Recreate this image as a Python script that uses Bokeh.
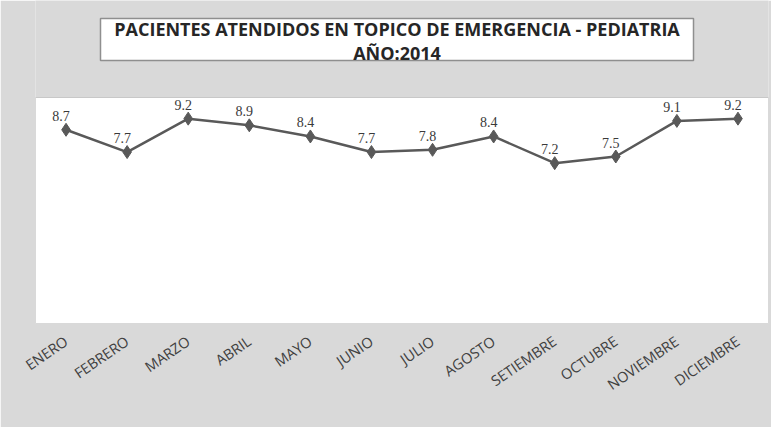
from bokeh.plotting import figure
from bokeh.models import ColumnDataSource, LabelSet, Label, Range1d, FactorRange, BoxAnnotation
from bokeh.embed import file_html
from bokeh.resources import INLINE
from bokeh.core.properties import value

months = ["ENERO", "FEBRERO", "MARZO", "ABRIL", "MAYO", "JUNIO", "JULIO",
          "AGOSTO", "SETIEMBRE", "OCTUBRE", "NOVIEMBRE", "DICIEMBRE"]
values = [8.7, 7.7, 9.2, 8.9, 8.4, 7.7, 7.8, 8.4, 7.2, 7.5, 9.1, 9.2]
title_lines = ["PACIENTES ATENDIDOS EN TOPICO DE EMERGENCIA - PEDIATRIA", "AÑO:2014"]
y_axis_max = 10.15

src = ColumnDataSource(dict(x=months, y=values, lab=[f"{v:.1f}" for v in values]))

# layout (pixels): frame 733 px wide; white plot area 226 px tall, frame extends 97 px above it
FRAME_W, PLOT_H, TOP_H = 733, 226, 97
y_per_px = y_axis_max / PLOT_H
x_per_px = len(months) / FRAME_W
y_top = y_axis_max + TOP_H * y_per_px

p = figure(width=771, height=427,
           x_range=FactorRange(*months, range_padding=0),
           y_range=Range1d(0, y_top),
           output_backend="svg", toolbar_location=None,
           min_border_left=35, min_border_right=3,
           min_border_top=0, min_border_bottom=104,
           background_fill_color="#d9d9d9", border_fill_color="#d9d9d9")
p.outline_line_color = None
p.grid.visible = False
p.yaxis.visible = False
ax = p.xaxis[0]
ax.axis_line_color = None
ax.major_tick_line_color = None
ax.minor_tick_line_color = None
ax.major_label_orientation = 0.6
ax.major_label_standoff = 10
ax.major_label_text_font = "Open Sans"
ax.major_label_text_font_size = "14.5px"
ax.major_label_text_color = "#404040"

# white plot area
p.add_layout(BoxAnnotation(bottom=0, top=y_axis_max, fill_color="white", fill_alpha=1,
                           line_color="#c8c8c8", line_alpha=1, line_width=1,
                           level="underlay"))

p.line(x="x", y="y", source=src, line_color="#595959", line_width=2.5)
p.scatter(x="x", y="y", source=src, marker="diamond", size=13, color="#595959")

labels = LabelSet(x="x", y="y", text="lab", source=src, text_align="center",
                  text_baseline="bottom", x_offset=-5, y_offset=9,
                  text_font=value("Liberation Serif"), text_font_size="14px",
                  text_color="#3a3a3a")
p.add_layout(labels)

# title box: 65..658 px from the frame's left, 263..305 px above the plot bottom
p.add_layout(BoxAnnotation(left=65 * x_per_px, right=658 * x_per_px,
                           bottom=263 * y_per_px, top=305 * y_per_px,
                           fill_color="white", fill_alpha=1,
                           line_color="#8f8f8f", line_alpha=1, line_width=1.5))
title = Label(x=361.5 * x_per_px, y=283 * y_per_px, text="\n".join(title_lines),
              text_align="center", text_baseline="middle",
              text_font="Open Sans", text_font_style="bold", text_font_size="18px",
              text_line_height=1.0, text_color="#262626")
p.add_layout(title)

open("out.html", "w").write(file_html(p, INLINE))
